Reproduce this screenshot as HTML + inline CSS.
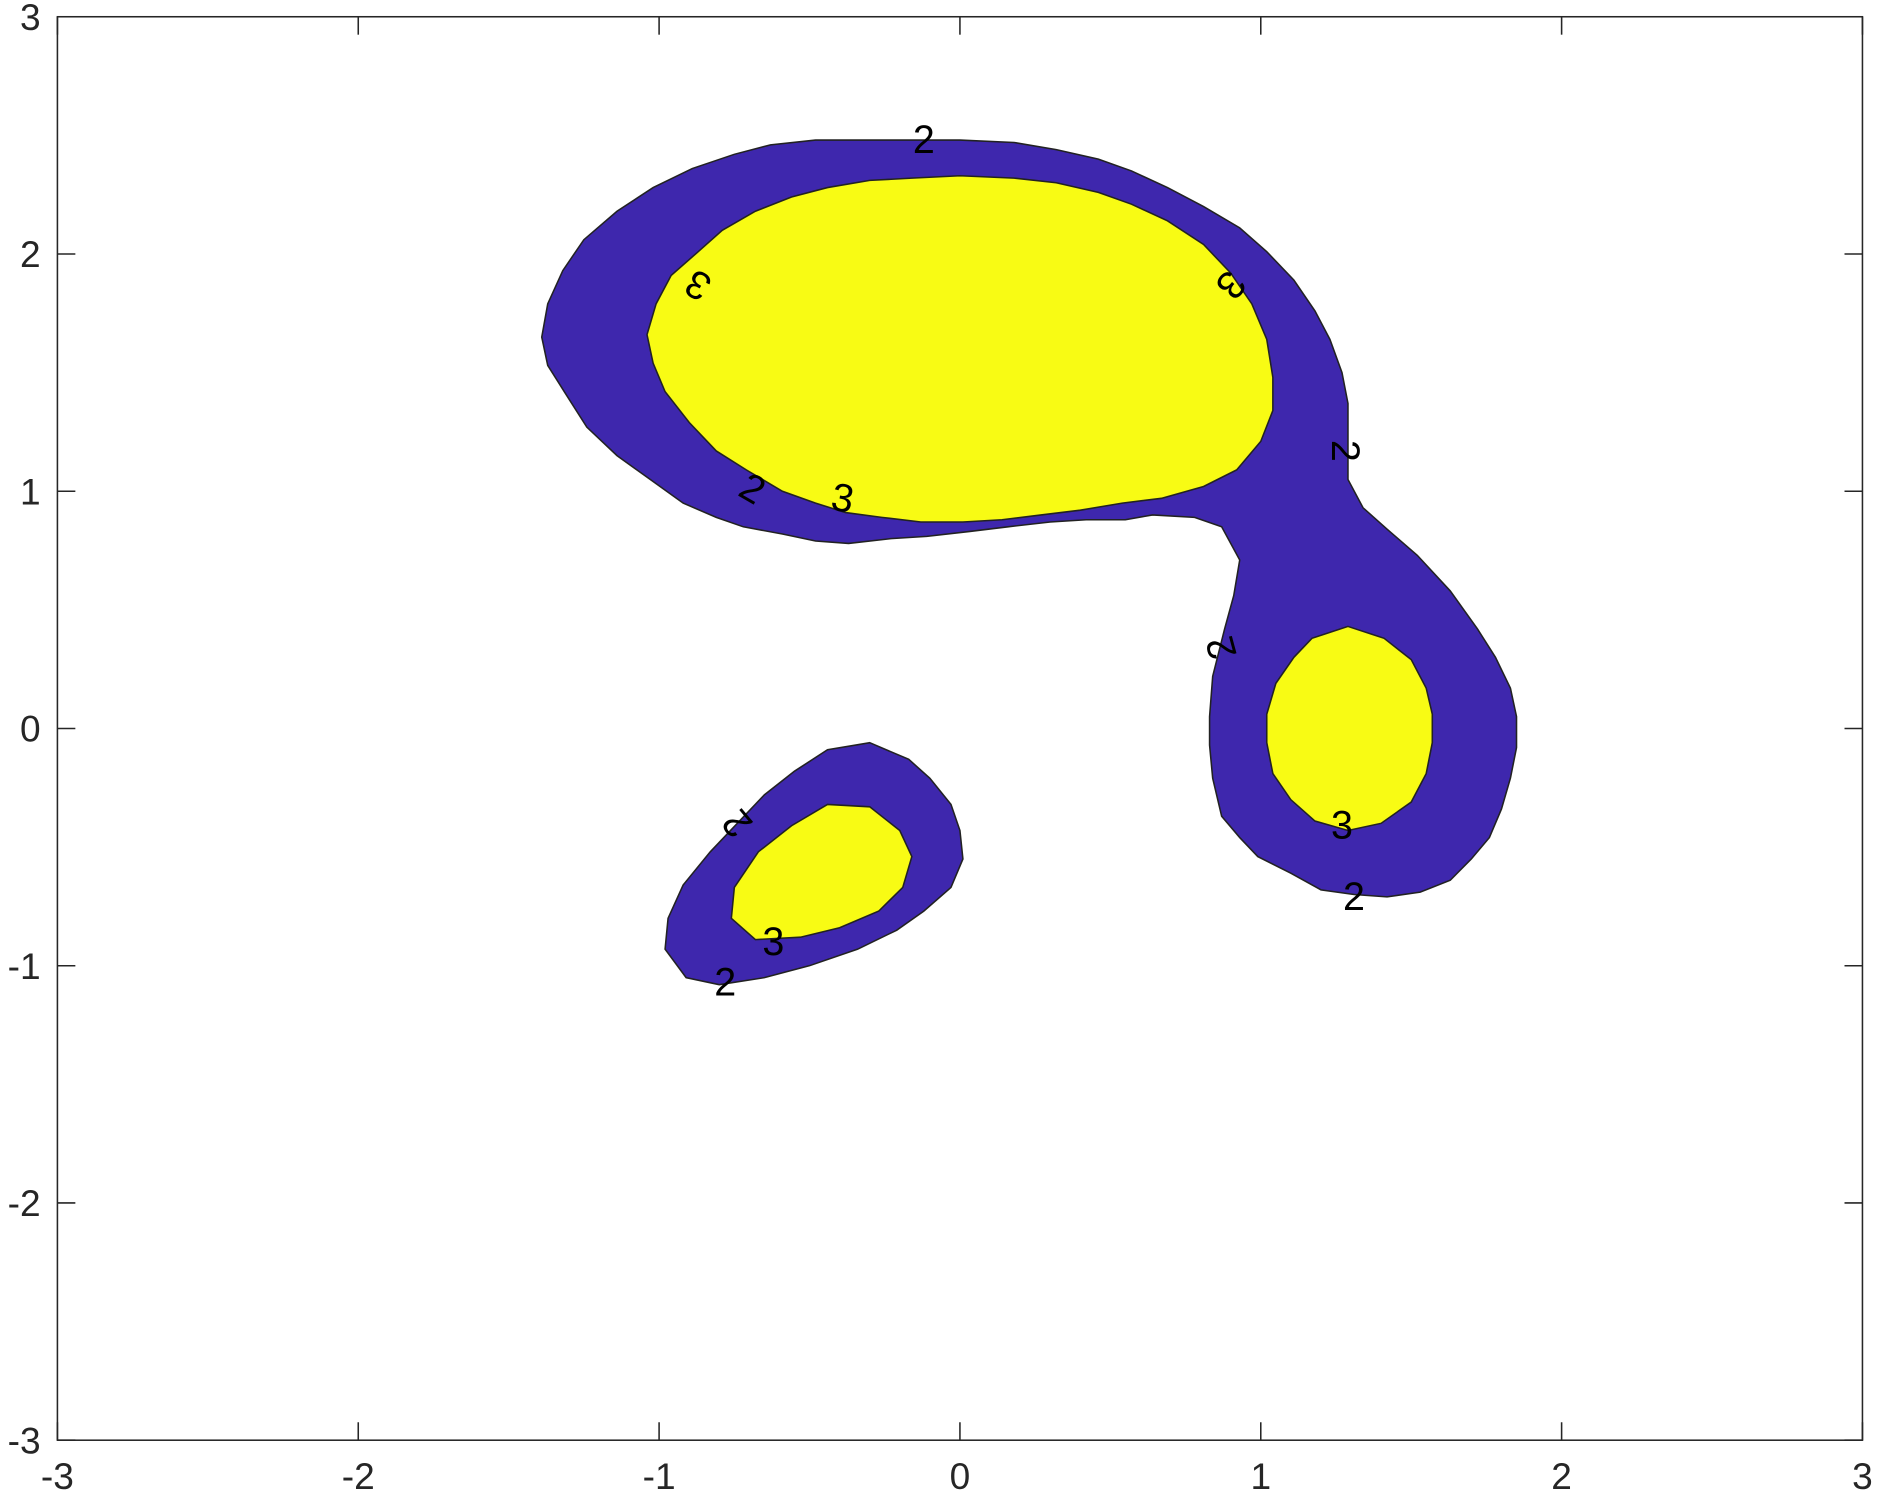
<!DOCTYPE html>
<html><head><meta charset="utf-8"><style>
html,body{margin:0;padding:0;background:#fff;}
svg{display:block;}
text{font-family:"Liberation Sans",Arial,sans-serif;}
</style></head><body>
<svg id="chart" width="1878" height="1503" viewBox="0 0 1570 1256.5" xmlns="http://www.w3.org/2000/svg">
<g id="fills"></g>
<g id="labels"></g>
<g id="axes"></g>
</svg>
<script>
const xTicks=[-3,-2,-1,0,1,2,3];
const yTicks=[-3,-2,-1,0,1,2,3];
const bigOuter=[[0.00,2.48],[0.18,2.47],[0.32,2.44],[0.46,2.40],[0.57,2.35],[0.69,2.28],[0.81,2.20],[0.93,2.11],[1.02,2.01],[1.11,1.89],[1.18,1.76],[1.23,1.64],[1.27,1.50],[1.29,1.37],[1.29,1.24],[1.29,1.05],[1.34,0.93],[1.42,0.84],[1.52,0.73],[1.63,0.58],[1.72,0.42],[1.78,0.30],[1.83,0.17],[1.85,0.05],[1.85,-0.08],[1.83,-0.21],[1.80,-0.34],[1.76,-0.46],[1.70,-0.55],[1.63,-0.64],[1.53,-0.69],[1.42,-0.71],[1.31,-0.70],[1.20,-0.68],[1.10,-0.61],[0.99,-0.54],[0.93,-0.46],[0.87,-0.37],[0.84,-0.21],[0.83,-0.07],[0.83,0.05],[0.84,0.22],[0.88,0.42],[0.91,0.56],[0.93,0.71],[0.87,0.85],[0.78,0.89],[0.64,0.90],[0.55,0.88],[0.42,0.88],[0.30,0.87],[0.16,0.85],[0.03,0.83],[-0.11,0.81],[-0.23,0.80],[-0.37,0.78],[-0.48,0.79],[-0.59,0.82],[-0.72,0.85],[-0.81,0.89],[-0.92,0.95],[-1.03,1.05],[-1.14,1.15],[-1.24,1.27],[-1.31,1.41],[-1.37,1.53],[-1.39,1.65],[-1.37,1.79],[-1.32,1.93],[-1.25,2.06],[-1.14,2.18],[-1.02,2.28],[-0.89,2.36],[-0.75,2.42],[-0.63,2.46],[-0.48,2.48],[-0.33,2.48],[-0.17,2.48]];
const bigInner=[[0.00,2.33],[0.18,2.32],[0.32,2.30],[0.46,2.26],[0.57,2.21],[0.69,2.14],[0.81,2.04],[0.90,1.92],[0.97,1.79],[1.02,1.64],[1.04,1.48],[1.04,1.34],[1.00,1.21],[0.92,1.09],[0.81,1.02],[0.67,0.97],[0.54,0.95],[0.40,0.92],[0.27,0.90],[0.14,0.88],[0.01,0.87],[-0.13,0.87],[-0.26,0.89],[-0.38,0.91],[-0.48,0.95],[-0.59,1.00],[-0.71,1.09],[-0.81,1.17],[-0.90,1.29],[-0.98,1.42],[-1.02,1.54],[-1.04,1.66],[-1.01,1.79],[-0.96,1.91],[-0.87,2.01],[-0.79,2.10],[-0.68,2.18],[-0.56,2.24],[-0.44,2.28],[-0.30,2.31],[-0.16,2.32]];
const rightInner=[[1.29,0.43],[1.41,0.38],[1.50,0.29],[1.55,0.17],[1.57,0.06],[1.57,-0.06],[1.55,-0.19],[1.50,-0.31],[1.40,-0.40],[1.29,-0.43],[1.18,-0.39],[1.10,-0.30],[1.04,-0.19],[1.02,-0.06],[1.02,0.06],[1.05,0.19],[1.11,0.30],[1.17,0.38]];
const lowOuter=[[-0.30,-0.06],[-0.17,-0.13],[-0.10,-0.21],[-0.03,-0.32],[0.00,-0.43],[0.01,-0.55],[-0.03,-0.67],[-0.12,-0.77],[-0.21,-0.85],[-0.34,-0.93],[-0.50,-1.00],[-0.65,-1.05],[-0.80,-1.08],[-0.91,-1.05],[-0.98,-0.93],[-0.97,-0.80],[-0.92,-0.66],[-0.83,-0.52],[-0.74,-0.40],[-0.65,-0.28],[-0.55,-0.18],[-0.44,-0.09]];
const lowInner=[[-0.44,-0.32],[-0.30,-0.33],[-0.20,-0.43],[-0.16,-0.54],[-0.19,-0.67],[-0.27,-0.77],[-0.40,-0.84],[-0.53,-0.88],[-0.68,-0.89],[-0.76,-0.80],[-0.75,-0.67],[-0.67,-0.52],[-0.56,-0.41]];
const labelText=["2","3","3","2","2","3","2","3","2","2","3","2"];
const labelX=[-0.12,-0.87,0.90,1.28,-0.69,-0.39,0.87,1.27,1.31,-0.74,-0.62,-0.78];
const labelY=[2.48,1.87,1.87,1.17,1.01,0.97,0.34,-0.41,-0.71,-0.40,-0.90,-1.07];
const labelRot=[0,210,130,90,30,10,-105,0,0,-130,0,0];

const L=48,R=1557,T=14,B=1204;
const sx=v=>L+(v+3)/6*(R-L);
const sy=v=>B-(v+3)/6*(B-T);
const NS="http://www.w3.org/2000/svg";
const fills=document.getElementById('fills');
const labels=document.getElementById('labels');
const axes=document.getElementById('axes');
function poly(pts,fill,name){
  const p=document.createElementNS(NS,'polygon');
  p.setAttribute('points',pts.map(q=>sx(q[0]).toFixed(1)+','+sy(q[1]).toFixed(1)).join(' '));
  p.setAttribute('fill',fill);p.setAttribute('stroke','#222');p.setAttribute('stroke-width','1.3');
  
  
  fills.appendChild(p);
}
poly(bigOuter,'#3e27ad','level-2-region-main');
poly(bigInner,'#f8fb14','level-3-region-top');
poly(rightInner,'#f8fb14','level-3-region-right');
poly(lowOuter,'#3e27ad','level-2-region-lower');
poly(lowInner,'#f8fb14','level-3-region-lower');
labelText.forEach((t,i)=>{
  const e=document.createElementNS(NS,'text');
  const x=sx(labelX[i]),y=sy(labelY[i]);
  e.setAttribute('x',x);e.setAttribute('y',y);
  e.setAttribute('text-anchor','middle');e.setAttribute('dominant-baseline','central');
  e.setAttribute('font-size','33');e.setAttribute('fill','#000');
  e.setAttribute('transform','rotate('+labelRot[i]+' '+x+' '+y+')');
  e.textContent=t;
  
  
  labels.appendChild(e);
});
const box=document.createElementNS(NS,'rect');
box.setAttribute('x',L);box.setAttribute('y',T);box.setAttribute('width',R-L);box.setAttribute('height',B-T);
box.setAttribute('fill','none');box.setAttribute('stroke','#262626');box.setAttribute('stroke-width','1.3');


axes.appendChild(box);
function line(x1,y1,x2,y2){
  const l=document.createElementNS(NS,'line');
  l.setAttribute('x1',x1);l.setAttribute('y1',y1);l.setAttribute('x2',x2);l.setAttribute('y2',y2);
  l.setAttribute('stroke','#262626');l.setAttribute('stroke-width','1.3');
  
  
  axes.appendChild(l);
}
function txt(x,y,s,anchor){
  const e=document.createElementNS(NS,'text');
  e.setAttribute('x',x);e.setAttribute('y',y);e.setAttribute('text-anchor',anchor);
  e.setAttribute('font-size','31');e.setAttribute('fill','#262626');
  e.textContent=s;
  
  
  axes.appendChild(e);
}
xTicks.forEach(v=>{
  const x=sx(v);
  line(x,B,x,B-15);line(x,T,x,T+15);
  txt(x,B+41,String(v),'middle');
});
yTicks.forEach(v=>{
  const y=sy(v);
  line(L,y,L+15,y);line(R,y,R-15,y);
  txt(L-14,y+11,String(v),'end');
});
</script>
</body></html>
